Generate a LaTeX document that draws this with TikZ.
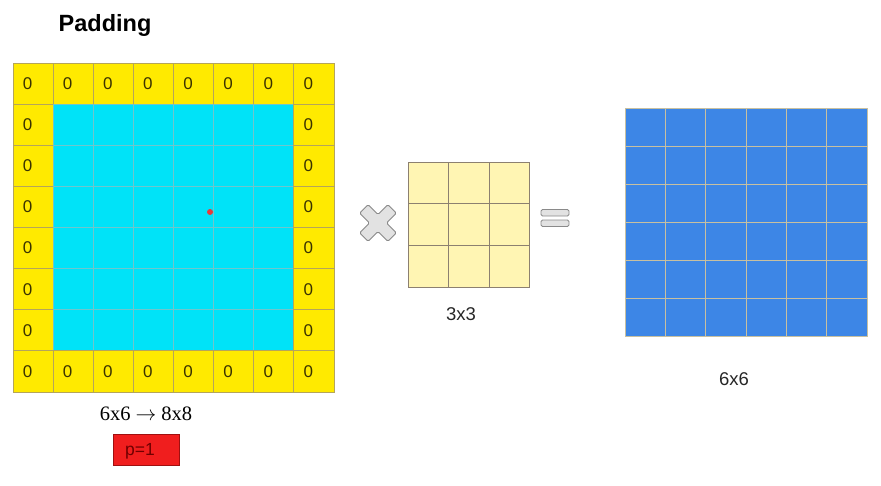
\documentclass[tikz,border=0pt]{standalone}
\usepackage{fontspec}
\setmainfont{Liberation Sans}
\newfontfamily\serifnum{Liberation Serif}
\definecolor{padyellow}{HTML}{FFEA00}
\definecolor{padline}{HTML}{B5A55A}
\definecolor{zerotext}{HTML}{3A3300}
\definecolor{incyan}{HTML}{00E3F8}
\definecolor{cyanline}{HTML}{6FC6CC}
\definecolor{kerfill}{HTML}{FFF5B3}
\definecolor{kerline}{HTML}{8C8070}
\definecolor{outblue}{HTML}{3D86E6}
\definecolor{blueline}{HTML}{C8C0A0}
\definecolor{boxred}{HTML}{F01E1E}
\definecolor{boxline}{HTML}{A01010}
\definecolor{boxtext}{HTML}{700000}
\definecolor{symfill}{HTML}{E2E2E2}
\definecolor{symline}{HTML}{8A8A8A}
\definecolor{dotred}{HTML}{E83A3A}
\tikzset{
  cellbase/.style={inner sep=0pt, outer sep=0pt, line width=0.8pt},
  padcell/.style={cellbase, draw=padline, fill=padyellow, minimum width=40.125pt, minimum height=41.125pt},
  zerolbl/.style={inner sep=0pt, text=zerotext, font=\fontsize{17}{17}\selectfont},
  incell/.style={cellbase, draw=cyanline, fill=incyan, minimum width=40.125pt, minimum height=41.125pt},
  kercell/.style={cellbase, draw=kerline, fill=kerfill, minimum width=40.5pt, minimum height=41.7pt},
  outcell/.style={cellbase, draw=blueline, fill=outblue, minimum width=40.33pt, minimum height=38pt},
  lbl/.style={font=\fontsize{18.5}{18.5}\selectfont, text=black!85},
  symshape/.style={draw=symline, fill=symfill, line width=0.9pt, rounded corners=1.5pt}
}
\begin{document}
\begin{tikzpicture}[x=1pt,y=-1pt]
\useasboundingbox (0,0) rectangle (881,485);
% title
\node[font=\fontsize{23.5}{23.5}\selectfont\bfseries] (title) at (105,25) {Padding};
% padded input grid
\foreach \r in {0,...,7}{\foreach \c in {0,...,7}{
  \ifnum\r=0 \def\b{1}\else\ifnum\r=7 \def\b{1}\else\ifnum\c=0 \def\b{1}\else\ifnum\c=7 \def\b{1}\else\def\b{0}\fi\fi\fi\fi
  \ifnum\b=1
    \node[padcell] (p-\r-\c) at ({13+40.125*(\c+0.5)},{63+41.125*(\r+0.5)}) {};
    \node[zerolbl] (z-\r-\c) at ([xshift=-5.5pt]p-\r-\c.center) {0};
  \else
    \node[incell] (p-\r-\c) at ({13+40.125*(\c+0.5)},{63+41.125*(\r+0.5)}) {};
  \fi
}}
\node[circle, fill=dotred, inner sep=0pt, minimum size=6pt] (dot) at (210,212) {};
% labels under input
\node[font=\serifnum\fontsize{20.5}{20.5}\selectfont] (size) at (146,414) {6x6 $\rightarrow$ 8x8};
\node[draw=boxline, fill=boxred, line width=0.8pt, minimum width=66pt, minimum height=31pt, inner sep=0pt] (pbox) at (146.5,450) {};
\node[text=boxtext, font=\fontsize{17.5}{17.5}\selectfont, inner sep=0pt] (ptext) at (140,451) {p=1};
% multiply symbol
\begin{scope}[shift={(378,223)}, rotate=45]
\draw[symshape] (-6,-20) -- (6,-20) -- (6,-6) -- (20,-6) -- (20,6) -- (6,6) -- (6,20) -- (-6,20) -- (-6,6) -- (-20,6) -- (-20,-6) -- (-6,-6) -- cycle;
\end{scope}
% kernel
\foreach \r in {0,1,2}{\foreach \c in {0,1,2}{
  \node[kercell] (k-\r-\c) at ({408+40.5*(\c+0.5)},{162+41.7*(\r+0.5)}) {};
}}
\node[lbl] (klbl) at (461,314) {3x3};
% equals symbol
\draw[symshape] (541,209.5) rectangle (569,216);
\draw[symshape] (541,220) rectangle (569,226.5);
% output grid
\foreach \r in {0,...,5}{\foreach \c in {0,...,5}{
  \node[outcell] (o-\r-\c) at ({625+40.33*(\c+0.5)},{108+38*(\r+0.5)}) {};
}}
\node[lbl] (olbl) at (734,379) {6x6};
\end{tikzpicture}
\end{document}
